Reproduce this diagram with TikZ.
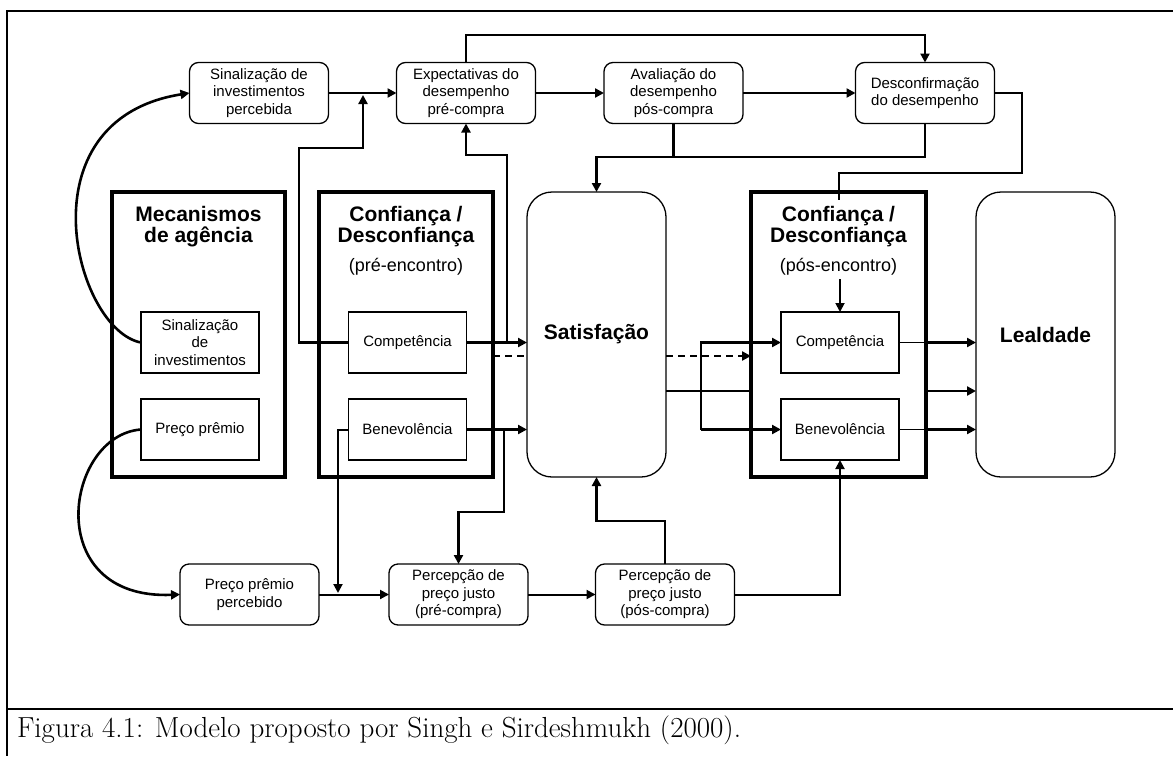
\documentclass[tikz,border=0pt]{standalone}
\usepackage{fontspec}
\usepackage{graphicx}
\usetikzlibrary{arrows.meta}
\newfontfamily\arialfam{Liberation Sans}
% bold group titles with a fixed line distance
\newcommand\grouptitlefont{\arialfam\bfseries\fontsize{21}{21.5}\selectfont\lineskiplimit -50pt\relax}

\begin{document}
\begin{tikzpicture}[x=1pt,y=-1pt,
  every node/.style={inner sep=0pt,outer sep=0pt},
  rbox/.style={draw,rounded corners=9pt,line width=1.3pt,minimum width=139pt,
    minimum height=61pt,align=center,font=\arialfam\fontsize{15}{17.5}\selectfont},
  ibox/.style={draw,line width=1.1pt,minimum width=118pt,minimum height=61pt,
    align=center,font=\arialfam\fontsize{15}{17.5}\selectfont},
  groupbox/.style={draw,line width=4.2pt,minimum height=285pt},
  bigbox/.style={draw,rounded corners=25pt,line width=1.3pt,minimum width=139pt,
    minimum height=285pt,font=\arialfam\bfseries\fontsize{21}{24}\selectfont},
  ttl/.style={anchor=north,align=center,font=\grouptitlefont},
  subttl/.style={anchor=base,font=\arialfam\fontsize{18}{20}\selectfont},
  conn/.style={line width=2.6pt},
  connlight/.style={line width=2pt},
  thinline/.style={line width=1.2pt},
  arr/.style={-{Triangle[length=9pt,width=9pt]}},
  dashline/.style={line width=2.6pt,dash pattern=on 7pt off 5pt}
]
\useasboundingbox (0,0) rectangle (1173,756);

% outer frame and caption rule
\draw[line width=2pt] (1173,11) -- (7,11) -- (7,756);
\draw[line width=2pt] (7,709) -- (1173,709);
\node[anchor=base west] (cap) at (17,737)
  {\resizebox{724pt}{!}{\fontsize{24}{28}\selectfont Figura 4.1: Modelo proposto por Singh e Sirdeshmukh (2000).}};

% upper row
\node[rbox] (sip) at (259,93)   {Sinalização de\\investimentos\\percebida};
\node[rbox] (exp) at (466,93)   {Expectativas do\\desempenho\\pré-compra};
\node[rbox] (ava) at (673.5,93) {Avaliação do\\desempenho\\pós-compra};
\node[rbox] (des) at (925,93)   {Desconfirmação\\do desempenho};

% lower row
\node[rbox] (ppp)   at (249.5,594.5) {Preço prêmio\\percebido};
\node[rbox] (pjpre) at (458.5,594.5) {Percepção de\\preço justo\\(pré-compra)};
\node[rbox] (pjpos) at (665,594.5)   {Percepção de\\preço justo\\(pós-compra)};

% group boxes
\node[groupbox,minimum width=173pt] (mec)  at (198.5,334.5) {};
\node[groupbox,minimum width=174pt] (cpre) at (406,334.5) {};
\node[groupbox,minimum width=175pt] (cpos) at (838.5,334.5) {};
\node[bigbox] (sat)  at (596.5,334.5) {Satisfação};
\node[bigbox] (leal) at (1045.5,334.5) {Lealdade};

% group titles
\node[ttl] (mect) at (198.5,206.2) {Mecanismos\\de agência};
\node[ttl] (cpret) at (406,205.8) {Confiança /\\Desconfiança};
\node[subttl] (cpresub) at (406,271) {(pré-encontro)};
\node[ttl] (cpost) at (838.5,205.8) {Confiança /\\Desconfiança};
\node[subttl] (cpossub) at (838.5,271) {(pós-encontro)};

% inner boxes
\node[ibox] (sinv)    at (200,342.5)   {Sinalização\\de\\investimentos};
\node[ibox] (ppr)     at (200,429.5)   {Preço prêmio};
\node[ibox] (comppre) at (407.5,342.5) {Competência};
\node[ibox] (benpre)  at (407.5,429.5) {Benevolência};
\node[ibox] (comppos) at (840,342.5)   {Competência};
\node[ibox] (benpos)  at (840,429.5)   {Benevolência};

% junction points
\coordinate (k1) at (299,148);
\coordinate (k2) at (363,95);
\coordinate (k3) at (507,342.5);
\coordinate (k4) at (466,155);
\coordinate (k5) at (466,35);
\coordinate (k6) at (596.5,157);
\coordinate (k7) at (504,429.5);
\coordinate (k8) at (458.5,512);
\coordinate (k9) at (338,593);
\coordinate (k10) at (596.5,521);
\coordinate (k11) at (701,342.5);
\coordinate (k12) at (701,429.5);
\coordinate (d1) at (493,356);
\coordinate (d2) at (666,356);
\coordinate (s1) at (666,391);
\coordinate (t1) at (1022,173);
\coordinate (t2) at (839,200);
\coordinate (t3) at (840,279);

% curved links from the agency mechanisms
\draw[conn,arr] (sinv.west) .. controls (75,330) and (20,120) .. (sip.west);
\draw[conn,arr] (ppr.west) .. controls (65,435) and (40,600) .. (ppp.west);

% upper flow
\draw[conn,arr] (sip.east) -- (exp.west);
\draw[conn,arr] (exp.east) -- (ava.west);
\draw[conn,arr] (ava.east) -- (des.west);
\draw[conn,arr] (exp.north) -- (k5) -| (des.north);
\draw[conn,arr] (comppre.west) -| (k1) -| (k2);
\draw[conn,arr] (k3) |- (k4) -- (exp.south);
\draw[conn] (ava.south) -- (ava.south |- k6);
\draw[conn,arr] (des.south) |- (k6) -- (sat.north);

% pre-encounter trust into satisfaction
\draw[conn,arr] (comppre.east) -- (comppre.east -| sat.west);
\draw[dashline] (d1) -- (d1 -| sat.west);
\draw[conn,arr] (benpre.east) -- (benpre.east -| sat.west);
\draw[conn,arr] (k7) |- (k8) -- (pjpre.north);
\draw[connlight,arr] (benpre.west) -| (k9);

% lower flow
\draw[connlight,arr] (ppp.east) -- (pjpre.west);
\draw[connlight,arr] (pjpre.east) -- (pjpos.west);
\draw[conn,arr] (pjpos.north) |- (k10) -- (sat.south);
\draw[connlight,arr] (pjpos.east) -| (benpos.south);

% satisfaction to post-encounter trust and loyalty
\draw[dashline,arr] (d2) -- (d2 -| cpos.west);
\draw[connlight] (s1) -- (s1 -| cpos.west);
\draw[conn,arr] (s1 -| cpos.east) -- (s1 -| leal.west);
\draw[conn,arr] (k12) -- (k11) -- (comppos.west);
\draw[conn,arr] (k12) -- (benpos.west);
\draw[thinline] (comppos.east) -- (comppos.east -| cpos.east);
\draw[conn,arr] (comppos.east -| cpos.east) -- (comppos.east -| leal.west);
\draw[thinline] (benpos.east) -- (benpos.east -| cpos.east);
\draw[conn,arr] (benpos.east -| cpos.east) -- (benpos.east -| leal.west);

% disconfirmation to post-encounter trust
\draw[thinline] (des.east) -| (t1) -| (t2);
\draw[line width=1.8pt,arr] (t3) -- (comppos.north);
\end{tikzpicture}
\end{document}
